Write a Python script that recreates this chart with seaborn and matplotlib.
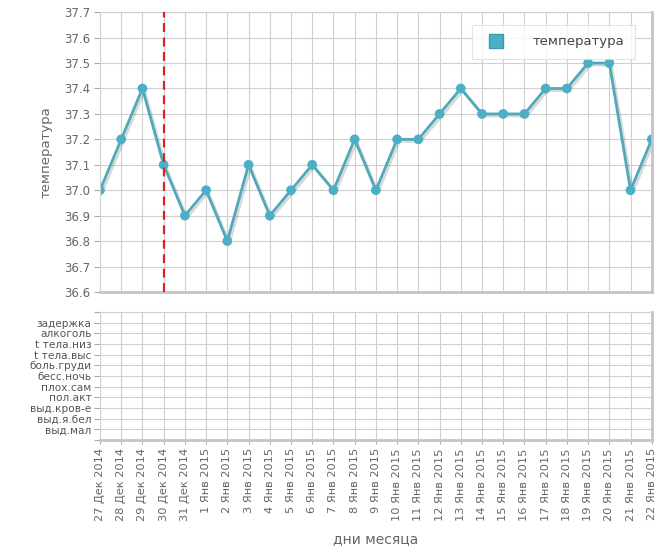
import numpy as np
import pandas as pd
import matplotlib
matplotlib.use("Agg")
import matplotlib.pyplot as plt
import matplotlib.patheffects as pe
from matplotlib.lines import Line2D
import seaborn as sns

# data
days = ["27 Дек 2014", "28 Дек 2014", "29 Дек 2014", "30 Дек 2014", "31 Дек 2014",
        "1 Янв 2015", "2 Янв 2015", "3 Янв 2015", "4 Янв 2015", "5 Янв 2015",
        "6 Янв 2015", "7 Янв 2015", "8 Янв 2015", "9 Янв 2015", "10 Янв 2015",
        "11 Янв 2015", "12 Янв 2015", "13 Янв 2015", "14 Янв 2015", "15 Янв 2015",
        "16 Янв 2015", "17 Янв 2015", "18 Янв 2015", "19 Янв 2015", "20 Янв 2015",
        "21 Янв 2015", "22 Янв 2015"]
temps = [37.0, 37.2, 37.4, 37.1, 36.9, 37.0, 36.8, 37.1, 36.9, 37.0,
         37.1, 37.0, 37.2, 37.0, 37.2, 37.2, 37.3, 37.4, 37.3, 37.3,
         37.3, 37.4, 37.4, 37.5, 37.5, 37.0, 37.2]
mark_day = "30 Дек 2014"
symptoms = ["задержка", "алкоголь", "t тела.низ", "t тела.выс", "боль.груди",
            "бесс.ночь", "плох.сам", "пол.акт", "выд.кров-е", "выд.я.бел", "выд.мал"]
temp_ticks = [36.6, 36.7, 36.8, 36.9, 37.0, 37.1, 37.2, 37.3, 37.4, 37.5, 37.6, 37.7]

df = pd.DataFrame({"day": days, "temp": temps})

sns.set_style("white")
plt.rcParams["font.family"] = ["DejaVu Sans"]

line_col = "#4fa9b9"
grid_col = "#cfcfcf"
text_col = "#666666"

fig = plt.figure(figsize=(6.68, 5.54), dpi=100)
ax = fig.add_axes([0.1497, 0.473, 0.826, 0.505])
ax2 = fig.add_axes([0.1497, 0.206, 0.826, 0.231])

sns.lineplot(data=df, x="day", y="temp", sort=False, ax=ax, color=line_col,
             linewidth=2, marker="o", markersize=7, markeredgewidth=0,
             markerfacecolor="#4bb0c6",
             path_effects=[pe.SimpleLineShadow(offset=(1.5, -1.5), alpha=0.15),
                           pe.Normal()])

x_mark = days.index(mark_day)
ax.axvline(x_mark, color="#e02020", linestyle=(0, (4, 2.5)), linewidth=1.6, zorder=5)

n = len(days)
for a in (ax, ax2):
    a.set_xlim(0, n - 1)
    a.set_xticks(range(n))
    a.grid(True, color=grid_col, linewidth=0.8)
    a.set_axisbelow(True)
    for s in ["top", "left"]:
        a.spines[s].set_color("#d0d0d0")
        a.spines[s].set_linewidth(0.8)
    for s in ["right", "bottom"]:
        a.spines[s].set_color("#c4c4c4")
        a.spines[s].set_linewidth(2)

ax.set_ylim(36.6, 37.7)
ax.set_yticks(temp_ticks)
ax.set_yticklabels([f"{t:.1f}" for t in temp_ticks])
ax.tick_params(axis="y", left=True, length=4, color="#aaaaaa", labelsize=8.5,
               labelcolor=text_col, pad=3)
ax.tick_params(axis="x", bottom=False, labelbottom=False)
ax.set_xlabel("")
ax.set_ylabel("температура", fontsize=9.5, color=text_col, labelpad=8)

legend_handle = Line2D([], [], marker="s", linestyle="none", markersize=10,
                       markerfacecolor="#4bb0c6", markeredgecolor="#3a9ab0")
leg = ax.legend([legend_handle], ["температура"], loc="upper right",
                bbox_to_anchor=(0.97, 0.955), frameon=True, fancybox=False,
                fontsize=9.5, handletextpad=1.8, borderpad=0.8,
                borderaxespad=0)
leg.get_frame().set_edgecolor("#dddddd")
leg.get_frame().set_linewidth(0.8)
for t in leg.get_texts():
    t.set_color("#444444")

ax2.set_ylim(len(symptoms), -1)
ax2.set_yticks(range(-1, len(symptoms) + 1))
ax2.set_yticklabels([""] + symptoms + [""])
ax2.tick_params(axis="y", left=True, length=4, color="#aaaaaa", labelsize=7.6,
                labelcolor="#555555", pad=2)
ax2.set_xticklabels(days, rotation=90)
ax2.tick_params(axis="x", bottom=True, length=3, color="#aaaaaa", labelsize=8.2,
                labelcolor=text_col, pad=3)
ax2.set_xlabel("дни месяца", fontsize=10, color=text_col, labelpad=8)

fig.savefig("out.png", dpi=100)
